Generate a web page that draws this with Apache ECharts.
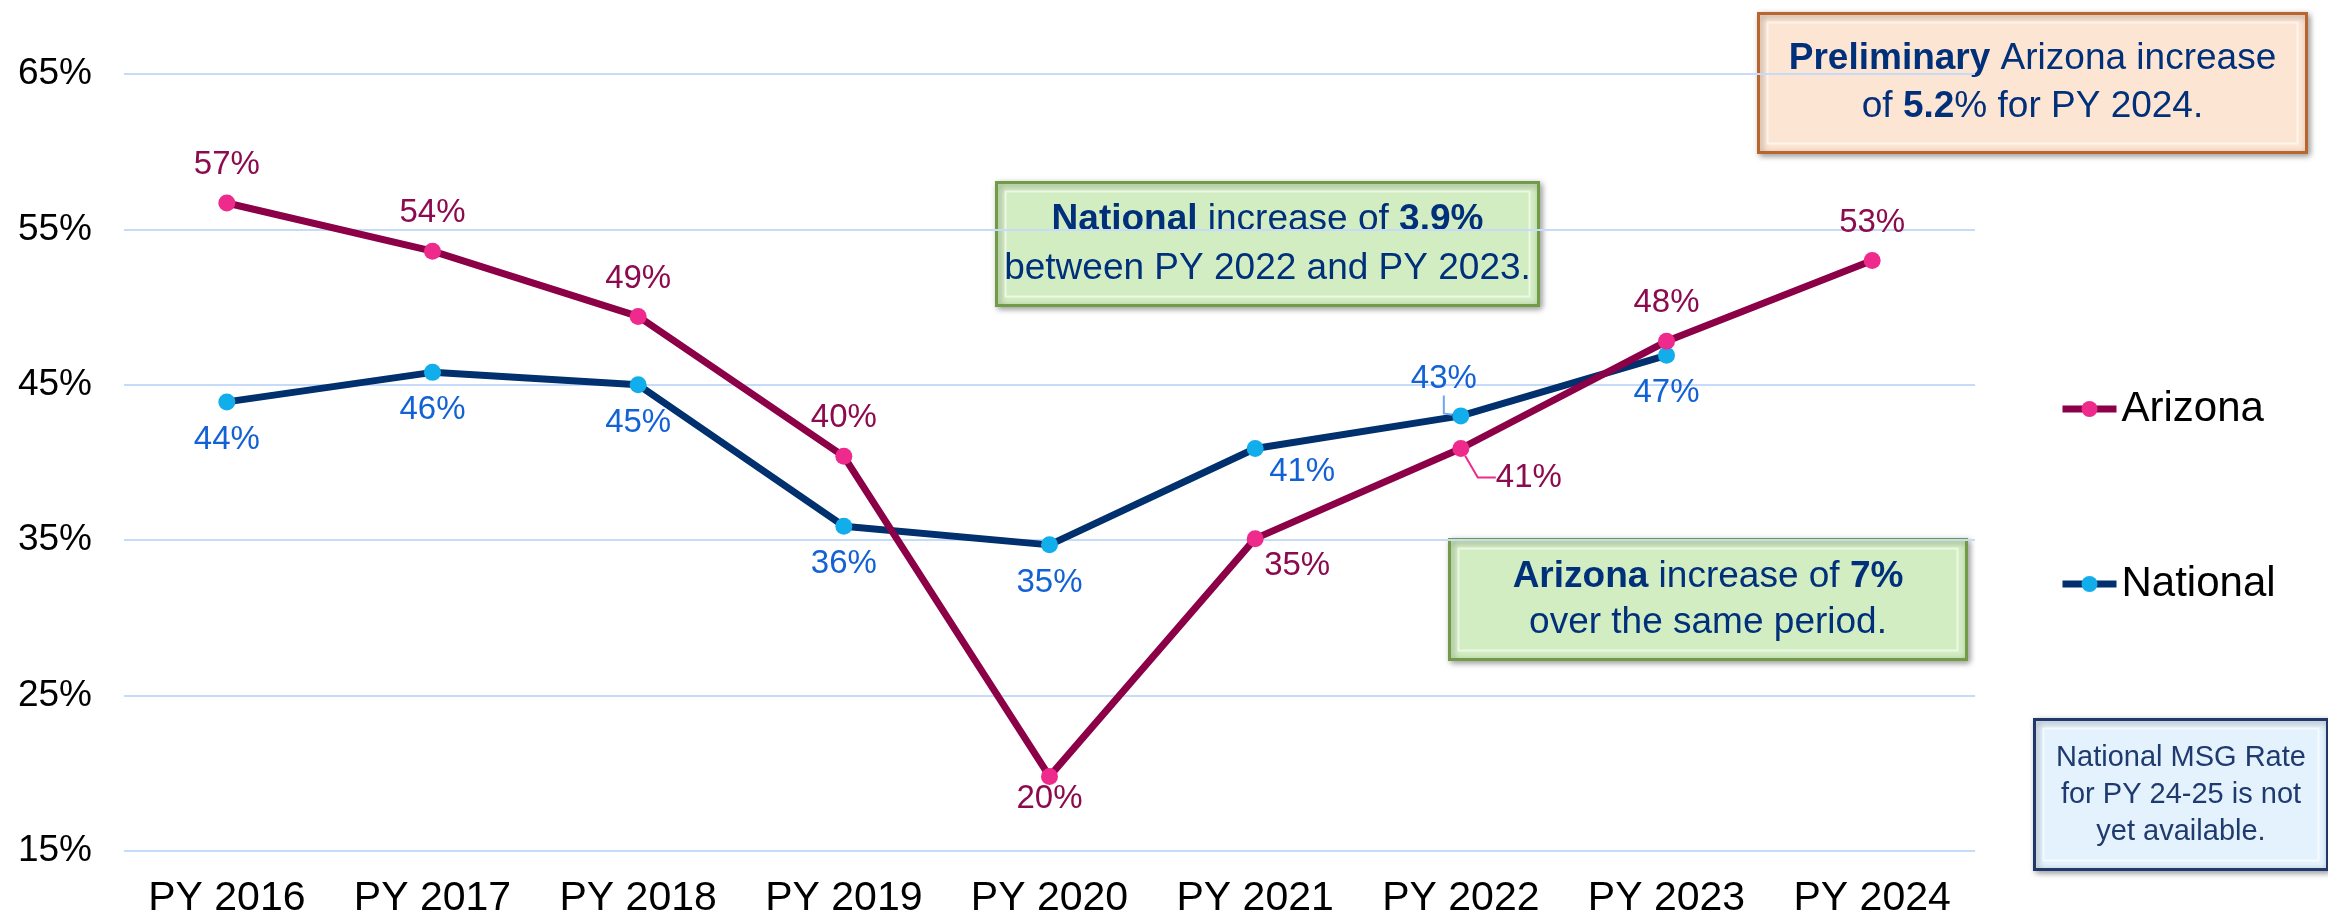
<!DOCTYPE html>
<html lang="en">
<head>
    <meta charset="UTF-8">
    <title>MSG Rate - Arizona vs National</title>
    <script src="https://cdn.jsdelivr.net/npm/echarts@6/dist/echarts.js"></script>
    <style type="text/css">
        html, body { margin: 0; padding: 0; background: #fff; }
        #myChart { width: 2328px; height: 919px; }
    </style>
</head>
<body>
<div id="myChart"></div>

<script>
    // data
    var categories = ['PY 2016', 'PY 2017', 'PY 2018', 'PY 2019', 'PY 2020', 'PY 2021', 'PY 2022', 'PY 2023', 'PY 2024'];
    var arizona = [56.7, 53.6, 49.4, 40.4, 19.8, 35.1, 40.9, 47.8, 53.0];
    var national = [43.9, 45.8, 45.0, 35.9, 34.7, 40.9, 43.0, 46.9, null];
    var yTicks = {min: 15, max: 65, step: 10};

    var FONT = 'Liberation Sans, Arial, sans-serif';
    var AZ_LINE = '#8C0047', AZ_DOT = '#EE2A8C', AZ_TEXT = '#8C0A4E';
    var NA_LINE = '#00306E', NA_DOT = '#12AEEB', NA_TEXT = '#1262D6';

    // labels that don't sit straight above / below the point: [dx, dy, guide line]
    var moved = {
        '0-4': [0, 22], '0-5': [42, 27], '0-6': [68, 29, true],
        '1-5': [47, 23], '1-6': [-17, -37, true]
    };

    function buildData(values, lineColor, seriesIdx) {
        return values.map(function (v, i) {
            var item = {value: v};
            var m = moved[seriesIdx + '-' + i];
            if (m) {
                item.label = {position: 'inside'};
                if (m[2]) {
                    item.labelLine = {show: true, length2: 18, lineStyle: {color: lineColor, width: 2}};
                }
            }
            return item;
        });
    }

    function box(x, y, w, h, fill, stroke, text, size, lh, color) {
        return {
            type: 'group', left: x, top: y,
            children: [
                {type: 'rect', shape: {x: 0, y: 0, width: w, height: h},
                    style: {fill: fill, stroke: stroke, lineWidth: 3,
                        shadowBlur: 6, shadowOffsetX: 2, shadowOffsetY: 2, shadowColor: 'rgba(0,0,0,0.35)'}},
                {type: 'rect', shape: {x: 9, y: 9, width: w - 18, height: h - 18},
                    style: {fill: 'none', stroke: 'rgba(255,255,255,0.6)', lineWidth: 2}},
                {type: 'text', x: w / 2, y: h / 2,
                    style: {text: text, x: 0, y: 0, align: 'center', verticalAlign: 'middle',
                        font: size + 'px ' + FONT, fill: color, lineHeight: lh,
                        rich: {b: {fontWeight: 'bold', fontSize: size, fontFamily: FONT, fill: color, lineHeight: lh}}}}
            ]
        };
    }

    var myChart = echarts.init(document.getElementById('myChart'));

    var option = {
        animation: false,
        textStyle: {fontFamily: FONT},
        grid: {left: 124, right: 353, top: 74, bottom: 67},
        legend: {
            orient: 'vertical',
            left: 2054, top: 383,
            itemGap: 133,
            itemWidth: 54, itemHeight: 20,
            lineStyle: {width: 7},
            textStyle: {fontSize: 42, color: '#000', fontFamily: FONT},
            data: ['Arizona', 'National']
        },
        xAxis: {
            type: 'category',
            data: categories,
            axisLine: {show: false},
            axisTick: {show: false},
            axisLabel: {fontSize: 41, color: '#000', margin: 27}
        },
        yAxis: {
            type: 'value',
            min: yTicks.min, max: yTicks.max, interval: yTicks.step,
            axisLine: {show: false},
            axisTick: {show: false},
            axisLabel: {formatter: '{value}%', fontSize: 37, color: '#000', margin: 32},
            splitLine: {lineStyle: {color: '#C6DBF8', width: 2}}
        },
        labelLayout: function (p) {
            var m = moved[p.seriesIndex + '-' + p.dataIndex];
            if (m) return {dx: m[0], dy: m[1]};
        },
        series: [
            {
                name: 'Arizona', type: 'line',
                data: buildData(arizona, AZ_DOT, 0),
                symbol: 'circle', symbolSize: 17,
                lineStyle: {color: AZ_LINE, width: 7},
                itemStyle: {color: AZ_DOT},
                label: {show: true, position: 'top', distance: 13, fontSize: 33, color: AZ_TEXT,
                    formatter: function (p) { return Math.round(p.value) + '%'; }},
                z: 3
            },
            {
                name: 'National', type: 'line',
                data: buildData(national, '#6EA6EE', 1),
                symbol: 'circle', symbolSize: 17,
                lineStyle: {color: NA_LINE, width: 7},
                itemStyle: {color: NA_DOT},
                label: {show: true, position: 'bottom', distance: 13, fontSize: 33, color: NA_TEXT,
                    formatter: function (p) { return Math.round(p.value) + '%'; }},
                z: 2
            }
        ],
        graphic: [
            box(1757, 12, 548, 139, '#FDE5D3', '#B8652E',
                '{b|Preliminary} Arizona increase\nof {b|5.2}% for PY 2024.', 37, 48, '#00307A'),
            box(995, 181, 542, 123, '#D3EDC2', '#709C48',
                '{b|National} increase of {b|3.9%}\nbetween PY 2022 and PY 2023.', 37, 49, '#00307A'),
            box(1448, 538, 517, 120, '#D3EDC2', '#709C48',
                '{b|Arizona} increase of {b|7%}\nover the same period.', 37, 46, '#00307A'),
            box(2033, 718, 293, 150, '#E3F2FC', '#20386A',
                'National MSG Rate\nfor PY 24-25 is not\nyet available.', 29, 37, '#1F3A6E')
        ]
    };

    myChart.setOption(option);
</script>
</body>
</html>
